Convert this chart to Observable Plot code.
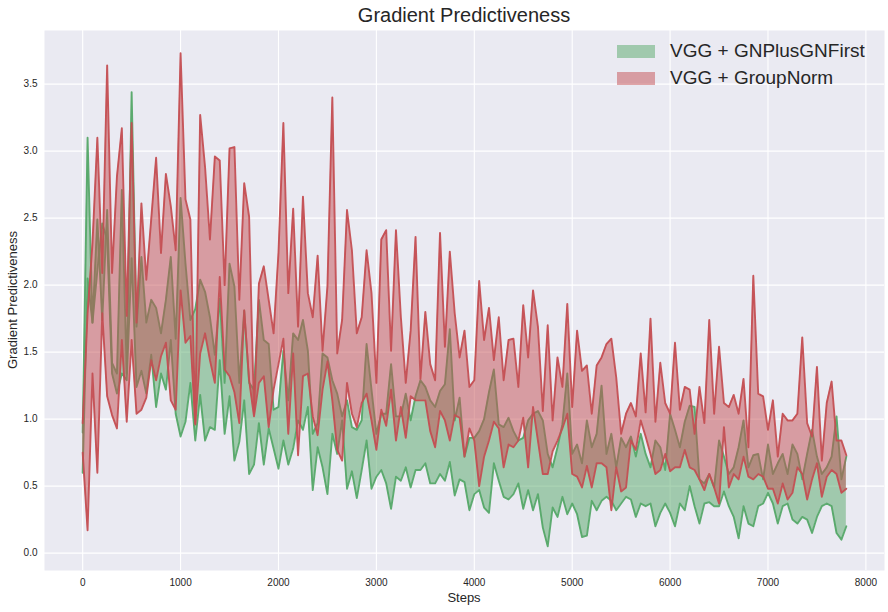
<!DOCTYPE html>
<html>
<head>
<meta charset="utf-8">
<script src="https://cdn.jsdelivr.net/npm/d3@7"></script>
<script src="https://cdn.jsdelivr.net/npm/@observablehq/plot@0.6"></script>
<style>
  html, body { margin: 0; padding: 0; background: #ffffff; }
  #wrap { position: relative; width: 888px; height: 612px; font-family: "Liberation Sans", Arial, sans-serif; color: #262626; }
  #title { height: 26px; text-align: center; font-size: 20px; line-height: 30px; padding-left: 40px; white-space: nowrap; }
  .ovl { position: absolute; white-space: nowrap; }
  #ylab { left: 12px; top: 300px; font-size: 13px; transform: translate(-50%, -50%) rotate(-90deg); }
  #xlab { left: 464px; top: 597px; font-size: 13px; transform: translate(-50%, -50%); }
  .leg { position: absolute; left: 617px; display: flex; align-items: center; font-size: 19px; }
  .leg .sw { width: 38px; height: 13px; margin-right: 15px; }
</style>
</head>
<body>
<div id="wrap">
  <div id="title">Gradient Predictiveness</div>
  <div id="chart"></div>
  <div class="ovl" id="ylab">Gradient Predictiveness</div>
  <div class="ovl" id="xlab">Steps</div>
  <div class="leg" id="leg1" style="top:40px"><div class="sw" id="sw1"></div><span id="lt1"></span></div>
  <div class="leg" id="leg2" style="top:67px"><div class="sw" id="sw2"></div><span id="lt2"></span></div>
</div>
<script>
// ---- data (one sample every 50 steps) ----
const seriesNames = ["VGG + GNPlusGNFirst", "VGG + GroupNorm"];
const stepStart = 0, stepEnd = 7800, stepEvery = 50;
const xTicks = [0, 1000, 2000, 3000, 4000, 5000, 6000, 7000, 8000];
const yTicks = [0.0, 0.5, 1.0, 1.5, 2.0, 2.5, 3.0, 3.5];

// GNPlusGNFirst, first curve
const gnFirstA = [
  0.90, 3.10, 1.72, 2.49, 1.74, 2.56, 1.42, 1.34, 2.71, 1.34, 3.44, 1.69, 2.21, 1.72, 1.89, 1.83, 1.64, 1.89, 2.21, 1.60, 2.65, 2.16, 1.74, 1.82, 2.04, 1.95, 1.76, 1.48, 1.90,
  1.27, 2.16, 1.99, 1.27, 1.81, 1.27, 1.22, 1.89, 1.59, 1.56, 1.07, 1.09, 1.51, 1.14, 1.64, 1.59, 1.74, 1.51, 0.89, 0.97, 1.49, 1.46, 1.29, 1.19, 1.02, 1.14, 0.94, 0.92, 0.99, 1.56, 1.22, 0.89, 1.04, 1.04, 1.41, 1.02, 1.02, 1.19, 0.99, 1.17,
  1.29, 1.24, 1.14, 1.09, 1.21, 1.26, 1.67, 0.99, 1.16, 0.72, 0.86, 0.86, 0.91, 1.00, 1.20, 1.37, 0.96, 0.94, 1.01, 0.91, 0.84, 0.86, 0.99, 1.04, 1.06, 0.99, 0.74, 0.64, 0.79, 0.96, 1.34, 0.74, 0.81, 0.67, 0.99, 0.79, 0.89, 1.25, 0.74, 0.89, 0.64, 0.86, 0.79,
  0.87, 0.72, 0.89, 0.74, 0.64, 0.84, 0.79, 0.62, 1.04, 0.92, 0.79, 0.98, 1.10, 1.09, 0.55, 0.52, 0.59, 0.49, 0.84, 0.72, 0.59, 0.64, 0.79, 0.99, 0.64, 0.73, 0.74, 0.55, 0.81, 0.59, 0.67, 0.74, 0.59, 0.81, 0.74, 0.55, 0.74, 0.92, 0.72, 0.59, 0.64, 0.72, 1.02, 0.55, 0.72
];
// GNPlusGNFirst, second curve
const gnFirstB = [
  0.60, 2.05, 1.72, 2.11, 2.46, 2.34, 1.34, 1.19, 1.34, 1.29, 2.20, 1.24, 1.36, 1.19, 1.48, 1.09, 1.34, 1.22, 1.59, 1.04, 0.87, 0.98, 1.27, 0.84, 1.18, 0.84, 0.94, 0.92, 1.44,
  0.89, 1.17, 0.69, 0.83, 1.14, 0.59, 0.66, 0.97, 0.66, 0.93, 0.78, 0.63, 0.84, 0.66, 0.78, 0.99, 0.92, 1.09, 0.47, 0.79, 0.64, 0.44, 0.89, 0.74, 0.99, 0.48, 0.61, 0.41, 0.62, 0.84, 0.48, 0.57, 0.62, 0.52, 0.33, 0.57, 0.54, 0.64, 0.49, 0.62,
  0.62, 0.67, 0.52, 0.52, 0.59, 0.54, 0.68, 0.43, 0.55, 0.53, 0.32, 0.44, 0.47, 0.34, 0.30, 0.67, 0.54, 0.42, 0.40, 0.44, 0.52, 0.33, 0.47, 0.32, 0.44, 0.19, 0.05, 0.34, 0.27, 0.42, 0.29, 0.37, 0.29, 0.12, 0.13, 0.39, 0.32, 0.39, 0.42, 0.39, 0.32, 0.37, 0.42,
  0.40, 0.27, 0.37, 0.35, 0.37, 0.20, 0.30, 0.37, 0.30, 0.20, 0.37, 0.32, 0.50, 0.35, 0.22, 0.37, 0.38, 0.35, 0.35, 0.46, 0.35, 0.27, 0.11, 0.35, 0.22, 0.20, 0.35, 0.37, 0.45, 0.37, 0.22, 0.35, 0.37, 0.25, 0.22, 0.27, 0.25, 0.15, 0.27, 0.35, 0.37, 0.35, 0.15, 0.10, 0.20
];
// GroupNorm, first curve
const groupNormA = [
  0.97, 1.79, 2.31, 3.10, 2.09, 3.64, 2.09, 2.81, 3.17, 1.77, 3.21, 1.72, 2.61, 2.04, 2.49, 2.95, 2.24, 2.83, 2.59, 2.26, 3.73, 2.64, 2.49, 0.97, 3.27, 2.88, 2.34, 2.96, 2.93,
  2.00, 3.02, 3.03, 1.89, 2.76, 2.51, 1.04, 2.01, 2.14, 1.89, 1.64, 2.24, 3.21, 1.94, 2.57, 1.69, 2.66, 1.94, 1.76, 2.22, 1.51, 1.99, 3.40, 1.49, 1.74, 2.56, 2.26, 1.64, 1.76, 2.26, 1.94, 1.27, 2.34, 2.41, 1.51, 2.41, 1.76, 1.27, 1.66, 2.36,
  1.30, 1.80, 1.41, 1.29, 2.39, 1.54, 2.25, 1.79, 1.46, 1.66, 1.24, 1.29, 2.03, 1.59, 1.83, 1.44, 1.76, 1.29, 1.59, 1.60, 1.24, 1.85, 1.46, 1.96, 1.69, 1.06, 1.70, 0.99, 1.46, 1.24, 1.86, 1.09, 1.66, 1.36, 1.40, 1.04, 1.40, 1.46, 1.56, 1.60, 1.31, 0.89, 1.04,
  1.12, 1.02, 1.49, 1.05, 1.75, 0.98, 1.42, 1.12, 1.04, 1.57, 1.07, 1.24, 1.22, 0.89, 1.24, 0.97, 1.74, 1.04, 1.54, 1.12, 1.09, 1.18, 1.04, 1.30, 0.79, 2.07, 1.19, 1.17, 0.92, 1.14, 0.72, 1.04, 0.99, 0.99, 1.04, 1.61, 0.97, 0.87, 1.39, 0.69, 1.12, 1.28, 0.84, 0.84, 0.73
];
// GroupNorm, second curve
const groupNormB = [
  0.75, 0.17, 1.34, 0.60, 1.79, 1.17, 1.03, 0.93, 1.59, 0.98, 1.59, 1.04, 1.07, 1.16, 1.44, 1.29, 1.47, 1.57, 1.14, 1.07, 1.96, 1.57, 1.62, 0.96, 1.49, 1.64, 1.44, 1.27, 2.06,
  1.37, 1.32, 1.20, 0.97, 1.81, 1.29, 1.02, 1.27, 1.32, 0.94, 1.22, 1.41, 1.60, 0.89, 1.49, 0.73, 1.32, 1.34, 1.02, 0.88, 1.22, 1.43, 1.14, 0.77, 0.69, 1.27, 1.04, 0.94, 1.12, 1.19, 0.99, 0.77, 1.07, 0.95, 1.22, 0.84, 1.09, 0.86, 1.17, 1.14,
  1.14, 1.14, 0.91, 0.79, 1.06, 0.99, 0.84, 1.03, 1.01, 0.72, 0.93, 0.84, 0.50, 0.72, 0.84, 0.98, 0.93, 0.64, 0.81, 0.79, 0.84, 1.01, 0.64, 1.09, 0.84, 0.59, 0.59, 0.76, 0.84, 0.93, 1.04, 0.59, 0.57, 0.49, 0.65, 0.49, 0.67, 0.67, 0.64, 0.32, 0.64, 0.46, 0.49,
  0.84, 0.77, 0.99, 0.87, 0.74, 0.59, 0.62, 0.74, 0.61, 0.64, 0.64, 0.77, 0.64, 0.62, 0.55, 0.47, 0.59, 0.49, 0.37, 0.94, 0.49, 0.59, 0.55, 0.72, 0.57, 0.55, 0.59, 0.57, 0.48, 0.48, 0.37, 0.52, 0.40, 0.45, 0.64, 0.59, 0.40, 0.55, 0.67, 0.42, 0.57, 0.62, 0.59, 0.45, 0.48
];

const colors = ["#55A868", "#C44E52"];
const bg = "#EAEAF2";

const steps = d3.range(stepStart, stepEnd + 1, stepEvery);
const rows = steps.map((s, i) => ({
  step: s, ga: gnFirstA[i], gb: gnFirstB[i], ra: groupNormA[i], rb: groupNormB[i]
}));

const lineOpts = (key, c) => ({x: "step", y: key, stroke: c, strokeWidth: 1.9, strokeOpacity: 0.95, strokeLinejoin: "round"});

const chart = Plot.plot({
  width: 888,
  height: 586,
  marginTop: 4,
  marginRight: 4,
  marginBottom: 42,
  marginLeft: 44,
  style: {fontFamily: "'Liberation Sans', Arial, sans-serif", fontSize: "10px", color: "#262626", background: "#ffffff", overflow: "visible"},
  x: {domain: [-390, 8190], label: null},
  y: {domain: [-0.13, 3.9], label: null},
  marks: [
    Plot.frame({fill: bg, stroke: null}),
    Plot.gridX(xTicks, {stroke: "#ffffff", strokeOpacity: 1, strokeWidth: 1.1}),
    Plot.gridY(yTicks, {stroke: "#ffffff", strokeOpacity: 1, strokeWidth: 1.1}),
    Plot.axisX(xTicks, {tickSize: 0, tickPadding: 8, tickFormat: d => String(d), label: null, fill: "#262626"}),
    Plot.axisY(yTicks, {tickSize: 0, tickPadding: 7, tickFormat: d3.format(".1f"), label: null, fill: "#262626"}),
    Plot.areaY(rows, {x: "step", y1: "ga", y2: "gb", fill: colors[0], fillOpacity: 0.5}),
    Plot.lineY(rows, lineOpts("ga", colors[0])),
    Plot.lineY(rows, lineOpts("gb", colors[0])),
    Plot.areaY(rows, {x: "step", y1: "ra", y2: "rb", fill: colors[1], fillOpacity: 0.5}),
    Plot.lineY(rows, lineOpts("ra", colors[1])),
    Plot.lineY(rows, lineOpts("rb", colors[1]))
  ]
});
document.getElementById("chart").appendChild(chart);

// legend
document.getElementById("lt1").textContent = seriesNames[0];
document.getElementById("lt2").textContent = seriesNames[1];
document.getElementById("sw1").style.background = colors[0];
document.getElementById("sw1").style.opacity = 0.5;
document.getElementById("sw2").style.background = colors[1];
document.getElementById("sw2").style.opacity = 0.5;
</script>
</body>
</html>
